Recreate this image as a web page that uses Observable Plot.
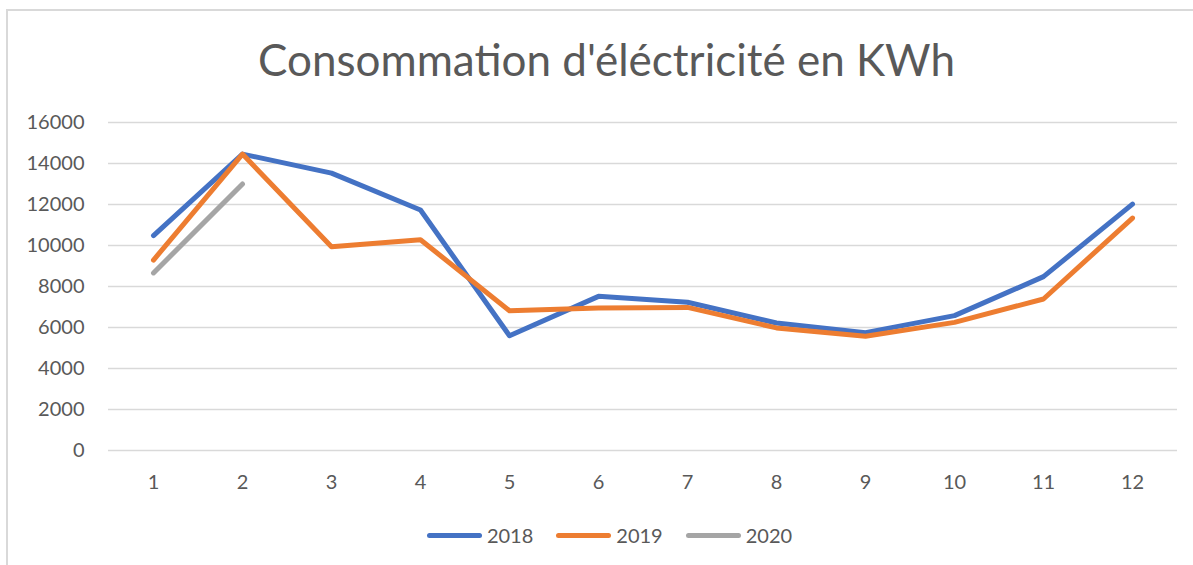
<!DOCTYPE html>
<html>
<head>
<meta charset="utf-8">
<script src="https://cdn.jsdelivr.net/npm/d3@7"></script>
<script src="https://cdn.jsdelivr.net/npm/@observablehq/plot@0.6"></script>
<style>
  html, body { margin: 0; padding: 0; background: #fff; }
  body { width: 1193px; height: 565px; position: relative; overflow: hidden; font-family: Lato, "Open Sans", sans-serif; }
  #frame { position: absolute; left: 6px; top: 9px; width: 1200px; height: 570px; border-left: 2px solid #d9d9d9; border-top: 2px solid #d9d9d9; }
  #title { position: absolute; left: 10px; top: 29px; width: 1193px; text-align: center; font-size: 44px; color: #595959; line-height: 60px; }
  #chart { position: absolute; left: 0; top: 100px; }
  #legend { position: absolute; left: 13px; top: 523px; width: 1193px; display: flex; justify-content: center; gap: 23px; font-size: 20px; color: #595959; }
  .item { display: flex; align-items: center; gap: 5px; }
  .sw { width: 55px; height: 5px; border-radius: 3px; }
</style>
</head>
<body>
<div id="frame"></div>
<div id="title">Consommation d'éléctricité en KWh</div>
<div id="chart"></div>
<div id="legend"></div>
<script>
const months = ["1","2","3","4","5","6","7","8","9","10","11","12"];
const seriesNames = ["2018","2019","2020"];
const seriesColors = ["#4472C4","#ED7D31","#A5A5A5"];
const values2018 = [10480, 14460, 13530, 11730, 5600, 7520, 7230, 6220, 5750, 6580, 8480, 12020];
const values2019 = [9290, 14460, 9940, 10280, 6820, 6950, 6980, 5980, 5570, 6250, 7390, 11340];
const values2020 = [8660, 13000];
const yTicks = [0, 2000, 4000, 6000, 8000, 10000, 12000, 14000, 16000];

const allSeries = [values2018, values2019, values2020];
const data = [];
allSeries.forEach((vals, i) => {
  vals.forEach((v, j) => data.push({month: months[j], value: v, year: seriesNames[i]}));
});

const plot = Plot.plot({
  width: 1193,
  height: 400,
  marginTop: 22,
  marginBottom: 50,
  marginLeft: 108,
  marginRight: 16,
  style: { fontFamily: "Lato, 'Open Sans', sans-serif", fontSize: "20px", color: "#595959", background: "transparent" },
  x: { type: "point", domain: months, padding: 0.5, label: null },
  y: { domain: [0, 16000], label: null },
  color: { domain: seriesNames, range: seriesColors },
  marks: [
    Plot.ruleY(yTicks, { stroke: "#d9d9d9", strokeWidth: 1.5 }),
    Plot.axisY({ ticks: yTicks, tickSize: 0, tickPadding: 24, tickFormat: d => String(d), label: null }),
    Plot.axisX({ tickSize: 0, tickPadding: 24, label: null }),
    Plot.line(data, { x: "month", y: "value", z: "year", stroke: "year", strokeWidth: 5, strokeLinecap: "round", strokeLinejoin: "round" })
  ]
});
document.getElementById("chart").appendChild(plot);

const legend = document.getElementById("legend");
seriesNames.forEach((name, i) => {
  const item = document.createElement("div");
  item.className = "item";
  const sw = document.createElement("div");
  sw.className = "sw";
  sw.style.background = seriesColors[i];
  const t = document.createElement("span");
  t.textContent = name;
  item.appendChild(sw);
  item.appendChild(t);
  legend.appendChild(item);
});
</script>
</body>
</html>
